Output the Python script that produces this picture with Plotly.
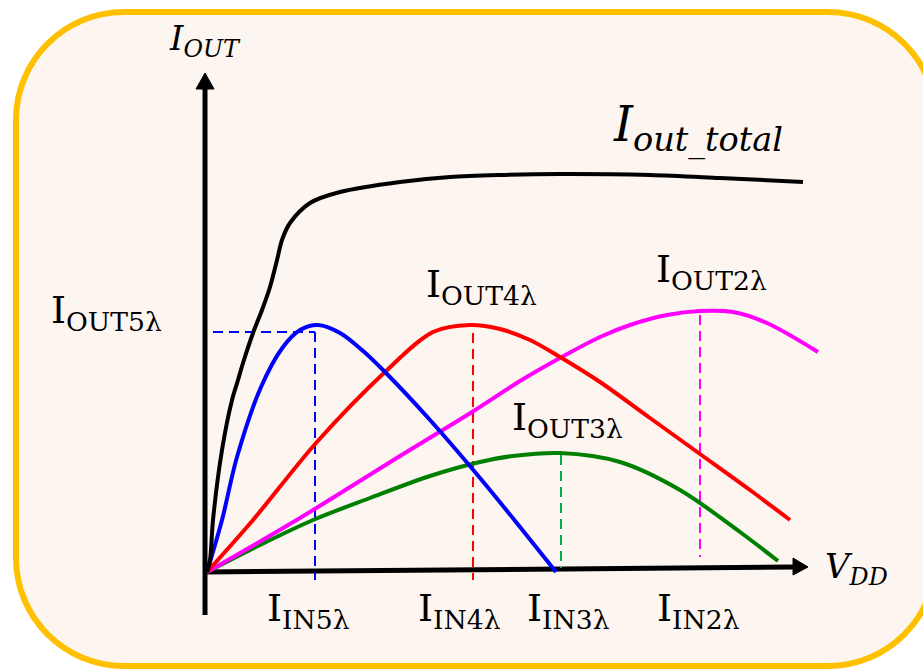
import plotly.graph_objects as go

# ---------------- data (arbitrary units: V_DD on x, I_OUT on y) ----------------
total_x = [0, 0.05, 0.1, 0.25, 0.417, 0.517, 0.6, 0.767, 0.917, 1.05, 1.167, 1.25, 1.383,
           1.717, 2.217, 3.217, 4.05, 4.883, 5.883, 7.383, 8.55, 9.933]
total_y = [0, 0.24, 1.04, 2.44, 3.44, 3.84, 4.18, 4.78, 5.24, 5.7, 6.24, 6.64, 6.98,
           7.38, 7.6, 7.8, 7.9, 7.94, 7.96, 7.94, 7.88, 7.8]

i5_x = [0, 0.25, 0.5, 0.9, 1.267, 1.55, 1.85, 2.217, 2.583, 2.967, 3.717, 4.55, 5.217, 5.817]
i5_y = [0, 1.04, 2.3, 3.7, 4.5, 4.84, 4.94, 4.78, 4.44, 4.0, 3.04, 1.88, 0.9, 0.0]

i4_x = [0, 0.767, 1.817, 2.967, 3.767, 4.383, 4.883, 5.383, 5.883, 6.55, 7.383, 8.217, 9.05, 9.717]
i4_y = [0, 1.04, 2.58, 4.0, 4.8, 4.94, 4.86, 4.64, 4.3, 3.8, 3.08, 2.36, 1.64, 1.04]

i3_x = [0, 0.883, 1.767, 2.717, 3.717, 4.55, 5.1, 5.883, 6.883, 7.883, 8.883, 9.517]
i3_y = [0, 0.54, 1.04, 1.48, 1.92, 2.2, 2.32, 2.38, 2.2, 1.64, 0.8, 0.22]

i2_x = [0, 1.55, 3.217, 4.417, 5.217, 5.883, 6.55, 7.05, 7.667, 8.217, 8.767, 9.333, 10.183]
i2_y = [0, 1.08, 2.32, 3.2, 3.82, 4.28, 4.7, 4.94, 5.14, 5.22, 5.2, 4.98, 4.4]

# peak markers (I_IN, I_OUT) and dashed guide ends
in5, out5 = 1.8, 4.8
in4, out4 = 4.433, 4.78
in3, out3 = 5.9, 2.34
in2, out2 = 8.217, 5.14
guide_bottom = [-0.16, -0.16, 0.08, 0.3]   # bottom of the vertical guides (5,4,3,2)
guide5_left = 0.1

# axes extents
x_axis = ([-0.033, 9.8], [0.0, 0.1])
y_axis = ([-0.033, -0.033], [-0.86, 9.68])
x_arrow = ([10.017, 9.767, 9.767, 10.017], [0.1, 0.28, -0.06, 0.1])
y_arrow = ([-0.033, -0.183, 0.117, -0.033], [9.98, 9.66, 9.66, 9.98])

# ---------------- layout geometry ----------------
W, H = 923, 670
X0, Y0 = 207, 572      # pixel of the data origin
SX, SY = 60, 50        # pixels per data unit


def dx(p):
    return (p - X0) / SX


def dy(p):
    return (Y0 - p) / SY


BLUE, RED, GREEN, MAG = "#0000FF", "#FF0000", "#008000", "#FF00FF"
DASHES = "10px,6px"

fig = go.Figure()


def curve(x, y, color, width=4):
    fig.add_trace(go.Scatter(x=x, y=y, mode="lines",
                             line=dict(color=color, width=width, shape="spline", smoothing=0.9),
                             hoverinfo="skip", showlegend=False))


def seg(x, y, color, width=2, dash=DASHES):
    fig.add_trace(go.Scatter(x=x, y=y, mode="lines",
                             line=dict(color=color, width=width, dash=dash),
                             hoverinfo="skip", showlegend=False))


# axes
seg(*x_axis, "black", width=5, dash="solid")
seg(*y_axis, "black", width=5, dash="solid")
for ax in (x_arrow, y_arrow):
    fig.add_trace(go.Scatter(x=ax[0], y=ax[1], mode="lines", fill="toself",
                             fillcolor="black", line=dict(color="black", width=1),
                             hoverinfo="skip", showlegend=False))

# dashed guides
seg([guide5_left, in5], [out5, out5], BLUE)
seg([in5, in5], [out5, guide_bottom[0]], BLUE)
seg([in4, in4], [out4, guide_bottom[1]], RED)
seg([in3, in3], [out3, guide_bottom[2]], "#00B050")
seg([in2, in2], [out2, guide_bottom[3]], MAG)

# curves
curve(i3_x, i3_y, GREEN)
curve(i2_x, i2_y, MAG)
curve(i4_x, i4_y, RED)
curve(i5_x, i5_y, BLUE)
curve(total_x, total_y, "black")

# rounded frame (in data coordinates)
L, T, R, B, r = 16, 12, 936, 666, 108
k = 0.5523 * r
pts = [
    ("M", [(L + r, T)]),
    ("L", [(R - r, T)]),
    ("C", [(R - r + k, T), (R, T + r - k), (R, T + r)]),
    ("L", [(R, B - r)]),
    ("C", [(R, B - r + k), (R - r + k, B), (R - r, B)]),
    ("L", [(L + r, B)]),
    ("C", [(L + r - k, B), (L, B - r + k), (L, B - r)]),
    ("L", [(L, T + r)]),
    ("C", [(L, T + r - k), (L + r - k, T), (L + r, T)]),
]
path = ""
for cmd, ps in pts:
    path += cmd + " " + " ".join(f"{dx(a):.4f},{dy(b):.4f}" for a, b in ps) + " "
path += "Z"
fig.add_shape(type="path", path=path, xref="x", yref="y", layer="below",
              fillcolor="#FDF5F0", line=dict(color="#FFC000", width=6))

FONT = "DejaVu Serif"


def label(text, px, py, size):
    fig.add_annotation(text=text, x=dx(px), y=dy(py), xref="x", yref="y",
                       xanchor="center", yanchor="middle", showarrow=False,
                       font=dict(family=FONT, size=size, color="black"))


label("I<sub>IN5λ</sub>", 308, 610, 38)
label("I<sub>IN4λ</sub>", 459, 610, 38)
label("I<sub>IN3λ</sub>", 568, 610, 38)
label("I<sub>IN2λ</sub>", 698, 610, 38)
label("I<sub>OUT5λ</sub>", 106, 312, 38)
label("I<sub>OUT4λ</sub>", 481, 286, 38)
label("I<sub>OUT2λ</sub>", 711, 271, 38)
label("I<sub>OUT3λ</sub>", 567, 419, 38)
label("<i>I<sub>out_total</sub></i>", 698, 128, 48)
label("<i>I<sub>OUT</sub></i>", 205, 40, 34)
label("<i>V<sub>DD</sub></i>", 856, 568, 34)

fig.update_layout(
    width=W, height=H, margin=dict(l=0, r=0, t=0, b=0),
    paper_bgcolor="white", plot_bgcolor="rgba(0,0,0,0)",
    xaxis=dict(range=[dx(0), dx(W)], visible=False, fixedrange=True),
    yaxis=dict(range=[dy(H), dy(0)], visible=False, fixedrange=True),
    showlegend=False,
)

fig.write_html("out.html", config={"displayModeBar": False},
               post_script="document.body.style.margin='0';document.body.style.overflow='hidden';")
